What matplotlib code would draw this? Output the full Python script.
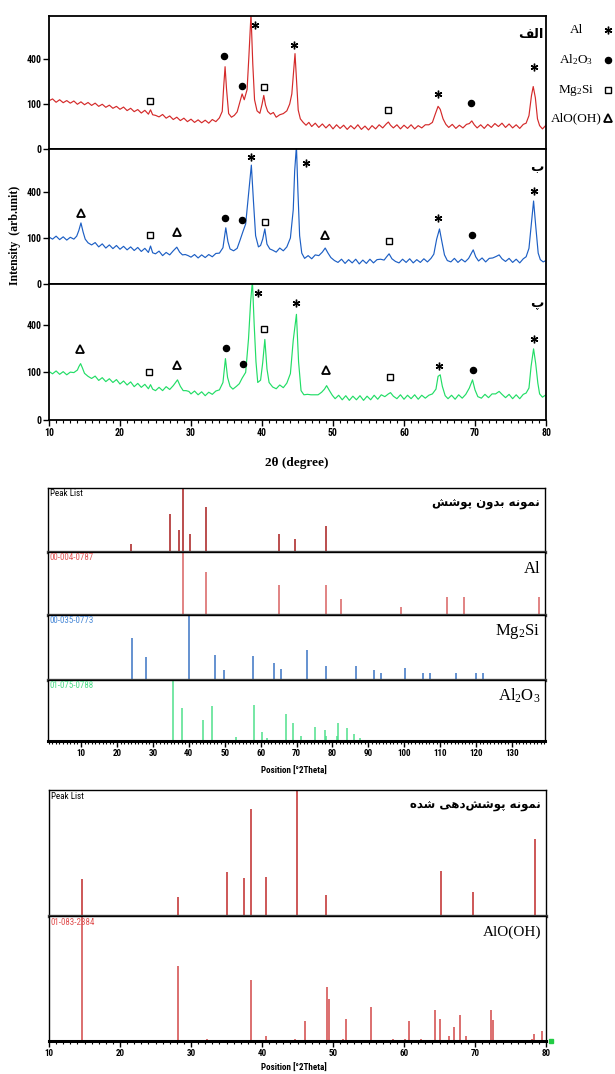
import numpy as np
import matplotlib
matplotlib.use('Agg')
import matplotlib.pyplot as plt
from matplotlib import font_manager
from matplotlib.ticker import MultipleLocator

# ---- XRD traces (2theta, counts) ----
tt_a = [10.0, 10.5, 11.0, 11.5, 12.0, 12.5, 13.0, 13.5, 14.0, 14.5, 15.0, 15.5, 16.0, 16.5, 17.0, 17.5,
        18.0, 18.5, 19.0, 19.5, 20.0, 20.5, 21.0, 21.5, 22.0, 22.5, 23.0, 23.5, 24.0, 24.3, 24.6, 25.0,
        25.5, 26.0, 26.5, 27.0, 27.5, 28.0, 28.5, 29.0, 29.5, 30.0, 30.5, 31.0, 31.5, 32.0, 32.5, 33.0,
        33.5, 34.0, 34.4, 34.6, 34.8, 35.0, 35.3, 35.7, 36.1, 36.5, 36.9, 37.2, 37.5, 37.9, 38.15, 38.45,
        38.7, 38.95, 39.3, 39.7, 40.0, 40.25, 40.5, 40.8, 41.2, 41.6, 42.0, 42.5, 43.0, 43.5, 43.9, 44.2,
        44.45, 44.65, 44.85, 45.1, 45.4, 45.8, 46.2, 46.6, 47.0, 47.5, 48.0, 48.5, 49.0, 49.5, 50.0, 50.5,
        51.0, 51.5, 52.0, 52.5, 53.0, 53.5, 54.0, 54.5, 55.0, 55.5, 56.0, 56.5, 57.0, 57.5, 57.8, 58.1,
        58.5, 59.0, 59.5, 60.0, 60.5, 61.0, 61.5, 62.0, 62.5, 63.0, 63.5, 64.0, 64.4, 64.8, 65.1, 65.5,
        65.9, 66.3, 66.8, 67.3, 67.8, 68.3, 68.8, 69.2, 69.55, 69.9, 70.3, 70.8, 71.3, 71.8, 72.3, 72.8,
        73.3, 73.8, 74.3, 74.8, 75.3, 75.8, 76.3, 76.8, 77.2, 77.6, 77.95, 78.2, 78.5, 78.8, 79.1, 79.5,
        80.0]
int_a = [115, 124, 108, 120, 106, 116, 104, 114, 99, 110, 97, 107, 94, 104, 90, 99,
         86, 95, 82, 90, 78, 87, 73, 82, 69, 77, 64, 74, 60, 76, 58, 56,
         51, 59, 47, 54, 43, 50, 40, 47, 37, 44, 35, 42, 34, 41, 33, 43,
         37, 48, 70, 190, 335, 180, 62, 50, 56, 68, 110, 150, 120, 175, 420, 900,
         360, 120, 72, 63, 98, 142, 95, 70, 60, 66, 50, 58, 62, 72, 100, 150,
         300, 450, 250, 75, 45, 35, 28, 35, 25, 33, 23, 31, 22, 30, 20, 29,
         21, 28, 19, 27, 20, 29, 19, 26, 18, 27, 20, 29, 22, 31, 36, 28,
         22, 29, 20, 28, 21, 29, 20, 27, 22, 29, 29, 35, 60, 90, 78, 45,
         30, 23, 30, 21, 28, 22, 30, 32, 39, 29, 22, 29, 21, 30, 23, 32,
         25, 33, 23, 31, 22, 29, 21, 30, 33, 55, 140, 193, 130, 45, 27, 20,
         28]

tt_b = [10.0, 10.5, 11.0, 11.5, 12.0, 12.5, 13.0, 13.5, 13.9, 14.2, 14.5, 14.8, 15.1, 15.5, 16.0, 16.5,
        17.0, 17.5, 18.0, 18.5, 19.0, 19.5, 20.0, 20.5, 21.0, 21.5, 22.0, 22.5, 23.0, 23.5, 24.0, 24.3,
        24.6, 25.0, 25.5, 26.0, 26.5, 27.0, 27.5, 28.0, 28.4, 28.8, 29.2, 29.6, 30.0, 30.5, 31.0, 31.5,
        32.0, 32.5, 33.0, 33.5, 34.0, 34.5, 34.9, 35.2, 35.5, 36.0, 36.5, 36.9, 37.3, 37.7, 38.1, 38.5,
        38.8, 39.1, 39.5, 39.8, 40.1, 40.4, 40.7, 41.1, 41.5, 42.0, 42.5, 43.0, 43.5, 44.0, 44.4, 44.6,
        44.85, 45.05, 45.3, 45.6, 46.0, 46.5, 47.0, 47.5, 48.0, 48.5, 48.9, 49.3, 49.7, 50.2, 50.7, 51.2,
        51.7, 52.2, 52.7, 53.2, 53.7, 54.2, 54.7, 55.2, 55.7, 56.2, 56.7, 57.2, 57.6, 57.9, 58.3, 58.8,
        59.3, 59.8, 60.3, 60.8, 61.3, 61.8, 62.3, 62.8, 63.3, 63.8, 64.2, 64.6, 65.0, 65.3, 65.7, 66.1,
        66.6, 67.1, 67.6, 68.1, 68.6, 69.1, 69.5, 69.75, 70.1, 70.5, 71.0, 71.5, 72.0, 72.5, 73.0, 73.4,
        73.8, 74.3, 74.8, 75.3, 75.8, 76.3, 76.8, 77.2, 77.6, 77.95, 78.25, 78.55, 78.9, 79.2, 79.6, 80.0]
int_b = [104, 95, 108, 93, 105, 91, 103, 95, 108, 135, 176, 128, 95, 80, 72, 81,
         65, 76, 61, 72, 59, 70, 57, 67, 55, 65, 53, 63, 50, 60, 47, 68,
         46, 43, 51, 38, 47, 40, 52, 64, 48, 40, 41, 38, 34, 41, 32, 40,
         33, 41, 35, 44, 45, 62, 149, 85, 58, 52, 60, 90, 128, 170, 380, 667,
         320, 110, 65, 70, 95, 143, 75, 58, 54, 48, 61, 52, 65, 100, 260, 600,
         900, 420, 110, 45, 31, 38, 30, 40, 38, 48, 61, 45, 33, 26, 22, 29,
         20, 28, 21, 29, 19, 27, 20, 29, 21, 28, 29, 27, 36, 43, 30, 24,
         21, 29, 22, 30, 21, 28, 22, 30, 23, 31, 42, 95, 143, 90, 40, 26,
         23, 31, 22, 29, 23, 31, 45, 55, 35, 25, 32, 23, 31, 32, 36, 40,
         30, 24, 31, 22, 29, 21, 30, 35, 60, 180, 325, 160, 45, 28, 23, 26]

tt_c = [10.0, 10.5, 11.0, 11.5, 12.0, 12.5, 13.0, 13.5, 14.0, 14.2, 14.45, 14.7, 15.0, 15.5, 16.0, 16.5,
        17.0, 17.5, 18.0, 18.5, 19.0, 19.5, 20.0, 20.5, 21.0, 21.5, 22.0, 22.5, 23.0, 23.5, 24.0, 24.3,
        24.6, 25.0, 25.5, 26.0, 26.5, 27.0, 27.5, 28.1, 28.5, 28.9, 29.3, 29.7, 30.0, 30.5, 31.0, 31.5,
        32.0, 32.5, 33.0, 33.5, 34.0, 34.5, 34.85, 35.15, 35.5, 35.9, 36.4, 36.8, 37.2, 37.7, 38.1, 38.4,
        38.65, 38.9, 39.15, 39.4, 39.8, 40.1, 40.4, 40.7, 41.0, 41.5, 42.0, 42.5, 43.0, 43.5, 44.0, 44.4,
        44.85, 45.15, 45.5, 45.9, 46.4, 46.9, 47.4, 47.9, 48.4, 48.8, 49.1, 49.5, 49.9, 50.3, 50.8, 51.3,
        51.8, 52.3, 52.8, 53.3, 53.8, 54.3, 54.8, 55.3, 55.8, 56.3, 56.8, 57.3, 57.8, 58.1, 58.5, 59.0,
        59.5, 60.0, 60.5, 61.0, 61.5, 62.0, 62.5, 63.0, 63.5, 64.0, 64.5, 64.8, 65.1, 65.4, 65.8, 66.2,
        66.7, 67.2, 67.7, 68.2, 68.7, 69.2, 69.65, 70.0, 70.4, 70.9, 71.4, 71.9, 72.4, 72.9, 73.4, 73.8,
        74.3, 74.8, 75.3, 75.8, 76.3, 76.8, 77.2, 77.6, 77.9, 78.25, 78.55, 78.85, 79.1, 79.5, 80.0]
int_c = [104, 94, 106, 92, 103, 90, 101, 99, 110, 125, 140, 120, 96, 84, 76, 85,
         69, 79, 65, 75, 62, 72, 57, 67, 54, 64, 49, 59, 47, 56, 43, 55,
         42, 38, 47, 38, 49, 41, 52, 71, 50, 38, 38, 36, 30, 37, 28, 35,
         26, 34, 29, 37, 40, 62, 166, 80, 50, 42, 50, 58, 77, 100, 290, 620,
         850, 400, 150, 62, 70, 145, 286, 115, 62, 48, 43, 54, 46, 60, 95, 280,
         492, 150, 38, 28, 29, 28, 28, 28, 34, 42, 52, 38, 27, 20, 27, 18,
         26, 17, 25, 18, 26, 17, 25, 18, 27, 19, 28, 24, 30, 33, 25, 20,
         28, 19, 27, 20, 28, 19, 27, 21, 27, 30, 42, 84, 90, 50, 26, 20,
         27, 19, 28, 21, 29, 45, 71, 40, 24, 21, 29, 22, 30, 30, 36, 29,
         22, 29, 20, 28, 20, 29, 32, 45, 127, 223, 140, 60, 30, 23, 28]

# phase marks above the peaks: (phase, 2theta, counts)
marks_a = [('Al', 39.05, 756), ('Al2O3', 34.7, 424), ('Al2O3', 37.2, 199), ('Mg2Si', 40.27, 193),
           ('Al', 44.5, 533), ('Mg2Si', 24.2, 112), ('Mg2Si', 57.75, 74), ('Al', 64.8, 147),
           ('Al2O3', 69.4, 104), ('Al', 78.3, 330)]
marks_b = [('AlOOH', 14.5, 235), ('Mg2Si', 24.2, 112), ('AlOOH', 28.0, 130), ('Al2O3', 34.8, 207),
           ('Al2O3', 37.2, 196), ('Mg2Si', 40.4, 182), ('Al', 38.45, 757), ('Al', 46.2, 687),
           ('AlOOH', 48.9, 112), ('Mg2Si', 57.9, 86), ('Al', 64.8, 203), ('Al2O3', 69.55, 112),
           ('Al', 78.35, 409)]
marks_c = [('AlOOH', 14.3, 225), ('Mg2Si', 24.1, 100), ('AlOOH', 28.0, 135), ('Al2O3', 34.9, 229),
           ('Al2O3', 37.35, 140), ('Al', 39.5, 716), ('Mg2Si', 40.3, 361), ('Al', 44.75, 607),
           ('AlOOH', 49.0, 112), ('Mg2Si', 58.0, 80), ('Al', 64.95, 130), ('Al2O3', 69.65, 109),
           ('Al', 78.35, 290)]

# ---- stick patterns (position, relative height %) ----
uncoated_pos = [23.8, 34.8, 37.2, 38.4, 40.4, 44.7, 65.1, 69.5, 78.35]
uncoated_h = [12, 60, 34, 100, 28, 70, 28, 20, 40]
al_pos = [38.47, 44.74, 65.13, 78.23, 82.44, 99.08, 112.04, 116.57, 137.46]
al_h = [100, 69, 47, 48, 26, 13, 28, 28, 28]
mg2si_pos = [24.1, 28.0, 40.0, 47.4, 49.7, 58.0, 63.7, 65.6, 72.9, 78.1, 86.5, 91.6, 93.5, 100.1,
             105.2, 107.1, 114.4, 120.0, 122.0]
mg2si_h = [64, 36, 100, 39, 15, 37, 26, 17, 46, 22, 22, 15, 11, 18, 11, 11, 11, 11, 11]
al2o3_pos = [35.5, 38.1, 42.5, 43.9, 46.5, 53.2, 58.1, 60.3, 61.8, 67.2, 68.9, 71.2, 75.2, 77.9,
             78.3, 81.4, 81.6, 84.1, 86.1, 87.7]
al2o3_h = [100, 54, 2, 34, 57, 7, 59, 14, 5, 44, 29, 8, 23, 18, 8, 8, 30, 22, 11, 5]

coated_pos = [14.6, 28.2, 35.0, 37.4, 38.5, 40.5, 44.9, 49.0, 65.2, 69.7, 78.4]
coated_h = [29, 15, 35, 30, 85, 31, 100, 17, 36, 19, 61]
boehmite_pos = [14.6, 28.2, 32.2, 38.4, 40.6, 44.6, 46.0, 49.1, 49.5, 51.4, 51.8, 55.4, 58.5, 60.2,
                60.7, 62.4, 64.3, 65.1, 66.3, 67.1, 67.9, 68.7, 72.2, 72.5, 78.0, 78.3, 79.5]
boehmite_h = [100, 60, 2, 49, 4, 2, 16, 43, 34, 2, 18, 27, 2, 2, 16, 2, 25, 18, 4, 11, 21, 4, 25,
              17, 2, 6, 8]

# Persian labels, pre-shaped glyphs in display order
lbl_a = '\uFED2\uFEDF\uFE8D'
lbl_b = '\uFE8F'
lbl_c = '\uFB56'
lbl_uncoated = '\uFEB6\uFEB7\uFEEE\uFB58 \uFEE5\uFEED\uFEAA\uFE91 \uFEEA\uFEE7\uFEEE\uFEE4\uFEE7'
lbl_coated = ('\uFEE9\uFEAA\uFEB7 \uFEF0\uFEEB\uFEA9\uFEB6\uFEB7\uFEEE\uFB58 '
              '\uFEEA\uFEE7\uFEEE\uFEE4\uFEE7')

# ---- fonts ----
names = {f.name for f in font_manager.fontManager.ttflist}
narrow = 'Liberation Sans'
for cand in ['Liberation Sans Narrow', 'Roboto Condensed']:
    if cand in names:
        narrow = cand
        break
serif = 'Liberation Serif'
plt.rcParams['mathtext.fontset'] = 'custom'
plt.rcParams['mathtext.rm'] = serif
plt.rcParams['mathtext.it'] = serif + ':italic'

W, H = 615, 1074
fig = plt.figure(figsize=(W / 100, H / 100), dpi=100)


def rect(l, t, r, b):
    return [l / W, 1 - b / H, (r - l) / W, (b - t) / H]


def ftext(x, y, s, **kw):
    fig.text(x / W, 1 - y / H, s, **kw)


styles = {
    'Al': dict(marker=(6, 2, 0), ms=5.5, mew=1.0, color='k', mec='k'),
    'Al2O3': dict(marker='o', ms=4.4, color='k', mec='k'),
    'Mg2Si': dict(marker='s', ms=5, mfc='white', mec='k', mew=1.0),
    'AlOOH': dict(marker='^', ms=6, mfc='white', mec='k', mew=1.3),
}

fwd = lambda v: np.sqrt(np.clip(v, 0, None))
inv = lambda v: np.square(v)

traces = [(tt_a, int_a, '#d42a2a', marks_a, lbl_a, 875, (16, 149)),
          (tt_b, int_b, '#1d5fc4', marks_b, lbl_b, 860, (149, 284)),
          (tt_c, int_c, '#22dd66', marks_c, lbl_c, 815, (284, 420))]

for i, (tt, inten, col, marks, lbl, top, (y0, y1)) in enumerate(traces):
    ax = fig.add_axes(rect(49, y0, 546, y1))
    ax.plot(tt, inten, color=col, lw=0.85)
    ax.set_yscale('function', functions=(fwd, inv))
    ax.set_xlim(10, 80)
    ax.set_ylim(0, top)
    ax.set_yticks([0, 100, 400])
    ax.set_yticklabels(['0', '100', '400'], fontfamily=narrow, fontweight='bold', fontsize=7)
    ax.yaxis.set_minor_locator(plt.NullLocator())
    ax.tick_params(axis='y', direction='out', length=4, width=1, pad=1.5)
    for s in ax.spines.values():
        s.set_linewidth(1.3)
    for ph, x, y in marks:
        ax.plot([x], [y], ls='none', clip_on=False, **styles[ph])
    ax.text(0.995, 0.86, lbl, transform=ax.transAxes, ha='right', va='center',
            fontfamily='DejaVu Sans', fontweight='bold', fontsize=9.5)
    if i < 2:
        ax.tick_params(axis='x', bottom=False, labelbottom=False)
    else:
        ax.xaxis.set_major_locator(MultipleLocator(10))
        ax.xaxis.set_minor_locator(MultipleLocator(1))
        ax.tick_params(axis='x', which='major', direction='out', length=4, width=1, pad=2)
        ax.tick_params(axis='x', which='minor', direction='out', length=2, width=0.8)
        for t in ax.get_xticklabels():
            t.set_fontfamily(narrow)
            t.set_fontweight('bold')
            t.set_fontsize(7)

ftext(297, 463, '2\u03b8 (degree)', ha='center', va='center', fontfamily=serif,
      fontweight='bold', fontsize=9.5)
ftext(15, 235, 'Intensity  (arb.unit)', ha='center', va='center', rotation=90,
      fontfamily=serif, fontweight='bold', fontsize=8.5)

# legend of phase symbols
lg = fig.add_axes(rect(548, 15, 615, 135))
lg.set_xlim(548, 615)
lg.set_ylim(135, 15)
lg.axis('off')
leg_rows = [('Al', 'Al', 30), ('Al$_2$O$_3$', 'Al2O3', 60), ('Mg$_2$Si', 'Mg2Si', 90),
            ('AlO(OH)', 'AlOOH', 118)]
for txt, ph, y in leg_rows:
    lg.text(576, y, txt, ha='center', va='center', fontfamily=serif, fontsize=9.5)
    lg.plot([608], [y], ls='none', clip_on=False, **styles[ph])


def stick_panel(box, pos, h, col, code, code_col, name=None, name_kw=None, xlim=(0.8, 139.2)):
    ax = fig.add_axes(rect(*box))
    ax.vlines(pos, 0, h, color=col, lw=1.1)
    ax.set_xlim(*xlim)
    ax.set_ylim(0, 100)
    ax.set_yticks([])
    ax.tick_params(axis='x', bottom=False, labelbottom=False)
    for s in ax.spines.values():
        s.set_linewidth(1.0)
    ax.text(0.004, 0.985, code, transform=ax.transAxes, ha='left', va='top', color=code_col,
            fontfamily=narrow, fontsize=6.5)
    if name is not None:
        ax.text(0.99, name_kw.pop('yy'), name, transform=ax.transAxes, ha='right', va='center',
                **name_kw)
    return ax


def finish_axis(ax, major, minor):
    ax.xaxis.set_major_locator(MultipleLocator(major))
    ax.xaxis.set_minor_locator(MultipleLocator(minor))
    ax.tick_params(axis='x', which='major', bottom=True, labelbottom=True, direction='out',
                   length=4, width=1, pad=2)
    ax.tick_params(axis='x', which='minor', bottom=True, direction='out', length=2.5, width=0.8)
    ax.spines['bottom'].set_linewidth(2.2)
    for t in ax.get_xticklabels():
        t.set_fontfamily(narrow)
        t.set_fontweight('bold')
        t.set_fontsize(6.5)


def inner_line(ax):
    ax.spines['bottom'].set_linewidth(2.4)
    ax.spines['bottom'].set_color('#4a4a4a')


fa = dict(fontfamily='DejaVu Sans', fontweight='bold', fontsize=8.5)
fs = dict(fontfamily=serif, fontsize=12)

# reference patterns, uncoated sample
m1 = stick_panel((48, 488, 545, 552), uncoated_pos, uncoated_h, '#a81c1c', 'Peak List', 'black',
                 lbl_uncoated, dict(fa, yy=0.75))
inner_line(m1)
m2 = stick_panel((48, 552, 545, 615), al_pos, al_h, '#d86262', '00-004-0787', '#e25a5a',
                 'Al', dict(fs, yy=0.73))
inner_line(m2)
m3 = stick_panel((48, 615, 545, 680), mg2si_pos, mg2si_h, '#3a74c4', '00-035-0773', '#4a8ad8',
                 'Mg$_2$Si', dict(fs, yy=0.74))
inner_line(m3)
m4 = stick_panel((48, 680, 545, 741), al2o3_pos, al2o3_h, '#4fe08c', '01-075-0788', '#4cdc88',
                 'Al$_2$O$_3$', dict(fs, yy=0.74))
finish_axis(m4, 10, 1)
ftext(294, 771, 'Position [\u00b02Theta]', ha='center', va='center', fontfamily=narrow,
      fontweight='bold', fontsize=6.5)

# coated sample against boehmite
b1 = stick_panel((49, 790, 546, 916), coated_pos, coated_h, '#c02a2a', 'Peak List', 'black',
                 lbl_coated, dict(fa, yy=0.88), xlim=(10, 80))
inner_line(b1)
b2 = stick_panel((49, 916, 546, 1041), boehmite_pos, boehmite_h, '#d24848', '01-083-2384',
                 '#e05252', 'AlO(OH)', dict(fs, fontsize=11, yy=0.87), xlim=(10, 80))
finish_axis(b2, 10, 1)
ftext(294, 1068, 'Position [\u00b02Theta]', ha='center', va='center', fontfamily=narrow,
      fontweight='bold', fontsize=6.5)
fig.add_artist(plt.Line2D([551 / W], [1 - 1041 / H], marker='s', ms=2.5, color='#22cc44',
                          ls='none', transform=fig.transFigure))

fig.savefig('out.png', dpi=100)
